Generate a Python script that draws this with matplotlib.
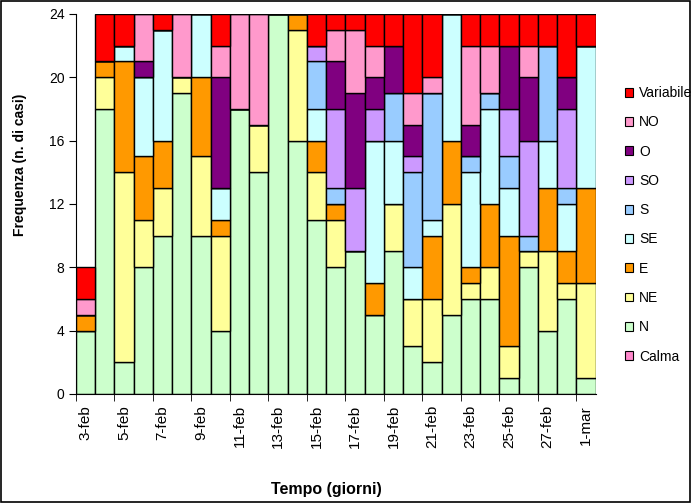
import matplotlib
matplotlib.use("Agg")
import matplotlib.pyplot as plt
import numpy as np
from matplotlib.patches import Patch, Rectangle

plt.rcParams['font.family'] = ['Liberation Sans', 'DejaVu Sans']

# giorni dal 3 febbraio al 1 marzo
giorni = ['3-feb', '4-feb', '5-feb', '6-feb', '7-feb', '8-feb', '9-feb', '10-feb',
          '11-feb', '12-feb', '13-feb', '14-feb', '15-feb', '16-feb', '17-feb',
          '18-feb', '19-feb', '20-feb', '21-feb', '22-feb', '23-feb', '24-feb',
          '25-feb', '26-feb', '27-feb', '28-feb', '1-mar']

# numero di casi per direzione del vento (ore al giorno)
calma     = [0, 0, 0, 0, 0, 0, 0, 0, 0, 0, 0, 0, 0, 0, 0, 0, 0, 0, 0, 0, 0, 0, 0, 0, 0, 0, 0]
n         = [4, 18, 2, 8, 10, 19, 10, 4, 18, 14, 24, 16, 11, 8, 9, 5, 9, 3, 2, 5, 6, 6, 1, 8, 4, 6, 1]
ne        = [0, 2, 12, 3, 3, 1, 5, 6, 0, 3, 0, 7, 3, 3, 0, 0, 3, 3, 4, 7, 1, 2, 2, 1, 5, 1, 6]
e         = [1, 1, 7, 4, 3, 0, 5, 1, 0, 0, 0, 1, 2, 1, 0, 2, 0, 0, 4, 4, 1, 4, 7, 0, 4, 2, 6]
se        = [0, 0, 1, 5, 7, 0, 4, 2, 0, 0, 0, 0, 2, 0, 0, 9, 4, 2, 1, 8, 6, 6, 3, 0, 3, 3, 9]
s         = [0, 0, 0, 0, 0, 0, 0, 0, 0, 0, 0, 0, 3, 1, 0, 0, 3, 6, 8, 0, 1, 1, 2, 1, 6, 1, 0]
so        = [0, 0, 0, 0, 0, 0, 0, 0, 0, 0, 0, 0, 1, 5, 4, 2, 0, 1, 0, 0, 0, 0, 3, 6, 0, 5, 0]
o         = [0, 0, 0, 1, 0, 0, 0, 7, 0, 0, 0, 0, 0, 3, 6, 2, 3, 2, 0, 0, 2, 0, 4, 4, 0, 2, 0]
no        = [1, 0, 0, 3, 0, 4, 0, 2, 6, 7, 0, 0, 0, 2, 4, 2, 0, 2, 1, 0, 5, 3, 0, 2, 0, 0, 0]
variabile = [2, 3, 2, 0, 1, 0, 0, 2, 0, 0, 0, 0, 2, 1, 1, 2, 2, 5, 4, 0, 2, 2, 2, 2, 2, 4, 2]

serie = [
    ('Calma', calma, '#FF88CC'),
    ('N', n, '#CCFFCC'),
    ('NE', ne, '#FFFF99'),
    ('E', e, '#FF9900'),
    ('SE', se, '#CCFFFF'),
    ('S', s, '#99CCFF'),
    ('SO', so, '#CC99FF'),
    ('O', o, '#800080'),
    ('NO', no, '#FF99CC'),
    ('Variabile', variabile, '#FF0000'),
]

fig = plt.figure(figsize=(6.91, 5.03), dpi=100)
ax = fig.add_axes([0.1096, 0.2167, 0.7524, 0.7555])

x = np.arange(len(giorni))
base = np.zeros(len(giorni))
for nome, valori, colore in serie:
    valori = np.array(valori, dtype=float)
    ax.bar(x, valori, width=1.0, bottom=base, color=colore,
           edgecolor='black', linewidth=1.0, label=nome)
    base += valori

ax.set_xlim(-0.5, len(giorni) - 0.5)
ax.set_ylim(0, 24)
ax.set_yticks(range(0, 25, 4))
ax.tick_params(axis='y', labelsize=10, length=5, pad=3, direction='out')

# etichette ogni due giorni, tacche ogni due separatori
ax.set_xticks(x[::2])
ax.set_xticklabels(giorni[::2], rotation=90, fontsize=11)
ax.tick_params(axis='x', length=0, pad=8)
ax.set_xticks(np.arange(-0.5, len(giorni), 2), minor=True)
ax.tick_params(axis='x', which='minor', length=5, direction='out')

for lato in ('top', 'right'):
    ax.spines[lato].set_visible(False)

ax.set_ylabel('Frequenza (n. di casi)', fontsize=10, fontweight='bold')
ax.yaxis.set_label_coords(-0.093, 0.603)
fig.text(0.473, 0.026, 'Tempo (giorni)', fontsize=11.5, fontweight='bold',
         ha='center', va='center')

handles = [Patch(facecolor=c, edgecolor='black', linewidth=0.8) for _, _, c in serie][::-1]
labels = [nm for nm, _, _ in serie][::-1]
fig.legend(handles, labels, loc='upper left', bbox_to_anchor=(0.904, 0.829),
           frameon=False, fontsize=10, handlelength=0.6, handleheight=0.6,
           handletextpad=0.45, labelspacing=1.1, borderpad=0, borderaxespad=0)

fig.patches.append(Rectangle((0.002, 0.002), 0.996, 0.996, transform=fig.transFigure,
                             fill=False, edgecolor='black', linewidth=1.2))

fig.savefig('out.png', dpi=100)
